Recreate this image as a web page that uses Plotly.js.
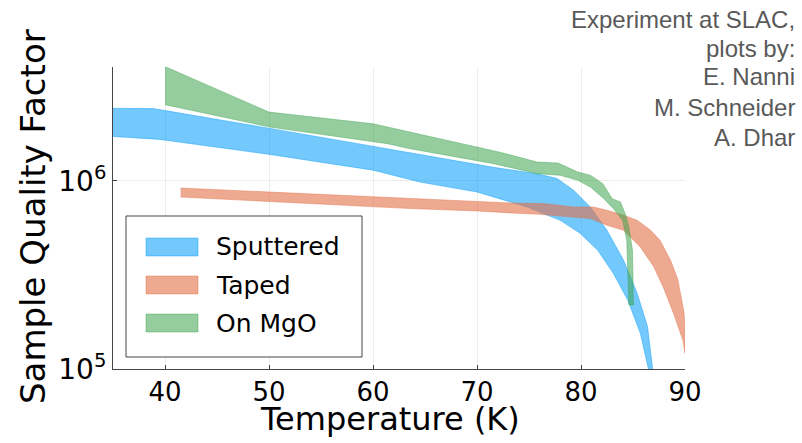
<!DOCTYPE html>
<html>
<head>
<meta charset="utf-8">
<script src="https://cdn.plot.ly/plotly-3.0.1.min.js"></script>
<style>html,body{margin:0;padding:0;background:#fff;}#chart{width:802px;height:443px;}</style>
</head>
<body>
<div id="chart"></div>
<script>
// Sputtered band (upper / lower edges)
const sputT_up = [35, 38.9, 50.1, 60, 64.5, 71.6, 75.8, 77.7, 79.3, 80.9, 82.5, 84.1, 85.4, 86.4, 86.9];
const sputQ_up = [2.43e6, 2.42e6, 1.90e6, 1.52e6, 1.38e6, 1.18e6, 1.09e6, 1.03e6, 8.9e5, 7.26e5, 5.46e5, 3.78e5, 2.53e5, 1.68e5, 9.9e4];
const sputT_lo = [35, 39.5, 50.1, 60, 64.5, 70, 74.8, 78, 79.9, 81.6, 83.1, 84.5, 85.7, 86.5];
const sputQ_lo = [1.72e6, 1.66e6, 1.38e6, 1.14e6, 9.85e5, 8.72e5, 7.26e5, 6.17e5, 5.27e5, 4.28e5, 3.23e5, 2.32e5, 1.55e5, 9.9e4];

// Taped band
const tapT_up = [41.5, 63.6, 70.0, 73.2, 76.4, 79.3, 81.2, 82.5, 84.1, 85.4, 86.7, 87.6, 88.6, 89.3, 89.9, 90];
const tapQ_up = [9.16e5, 8.04e5, 7.78e5, 7.63e5, 7.57e5, 7.26e5, 7.26e5, 6.98e5, 6.56e5, 6.17e5, 5.46e5, 4.83e5, 3.79e5, 3.01e5, 2.01e5, 1.67e5];
const tapT_lo = [41.5, 63.6, 70.0, 73.2, 76.0, 79.3, 80.9, 82.5, 84.1, 85.7, 87.0, 87.9, 88.9, 89.8, 90];
const tapQ_lo = [8.2e5, 7.12e5, 6.92e5, 6.75e5, 6.64e5, 6.40e5, 6.30e5, 5.81e5, 5.46e5, 4.45e5, 3.49e5, 2.73e5, 1.97e5, 1.42e5, 1.21e5];

// On MgO band
const mgoT_up = [40, 50, 60, 63.6, 70.0, 72.2, 75.8, 77.8, 79.7, 80.9, 82.1, 83.0, 83.8, 84.3, 84.6, 84.95, 85.05];
const mgoQ_up = [4.05e6, 2.32e6, 2.01e6, 1.815e6, 1.51e6, 1.42e6, 1.258e6, 1.243e6, 1.114e6, 1.07e6, 9.66e5, 8.04e5, 7.72e5, 6.56e5, 5.69e5, 4.28e5, 2.19e5];
const mgoT_lo = [40, 50.1, 61.4, 63.6, 71.6, 75.8, 78.0, 79.7, 80.9, 82.2, 83.1, 84.0, 84.4, 84.5, 84.6];
const mgoQ_lo = [2.54e6, 1.93e6, 1.575e6, 1.48e6, 1.234e6, 1.092e6, 1.07e6, 1.006e6, 9.27e5, 8.04e5, 7.12e5, 6.17e5, 4.83e5, 3.23e5, 2.19e5];

const seriesNames = ["Sputtered", "Taped", "On MgO"];
const xTicks = [40, 50, 60, 70, 80, 90];
const yTicks = [1e5, 1e6];
const yTickText = ["10<sup>5</sup>", "10<sup>6</sup>"];
const xTitle = "Temperature (K)";
const yTitle = "Sample Quality Factor";
const creditLines = ["Experiment at SLAC,", "plots by:", "E. Nanni", "M. Schneider", "A. Dhar"];

const fills = ["rgba(0,154,250,0.55)", "rgba(227,111,71,0.6)", "rgba(62,164,78,0.55)"];
const edges = ["rgba(0,154,250,0.6)", "rgba(227,111,71,0.6)", "rgba(62,164,78,0.6)"];

function band(i, tu, qu, tl, ql) {
  return {
    type: "scatter", mode: "lines", name: seriesNames[i],
    x: tu.concat(tl.slice().reverse()),
    y: qu.concat(ql.slice().reverse()),
    fill: "toself", fillcolor: fills[i],
    line: {color: edges[i], width: 0.7},
    showlegend: false, hoverinfo: "skip"
  };
}

const data = [
  band(0, sputT_up, sputQ_up, sputT_lo, sputQ_lo),
  band(1, tapT_up, tapQ_up, tapT_lo, tapQ_lo),
  band(2, mgoT_up, mgoQ_up, mgoT_lo, mgoQ_lo)
];

// layout helpers in paper coordinates (plot area: x 113..685, y 67..369 px)
const W = 572, H = 302;
const px = v => (v - 113) / W;
const py = v => (369 - v) / H;
const shapes = [{
  type: "rect", xref: "paper", yref: "paper",
  x0: px(126), x1: px(362), y0: py(357), y1: py(216),
  fillcolor: "#fff", line: {color: "#444", width: 1}, layer: "above"
}];
const annotations = [];
const rowY = [247, 285, 323];
seriesNames.forEach((n, i) => {
  shapes.push({
    type: "rect", xref: "paper", yref: "paper",
    x0: px(146), x1: px(198), y0: py(rowY[i] + 9), y1: py(rowY[i] - 9),
    fillcolor: fills[i], line: {color: edges[i], width: 0.7}, layer: "above"
  });
  annotations.push({
    xref: "paper", yref: "paper", x: px(214), y: py(rowY[i]),
    xanchor: "left", yanchor: "middle", showarrow: false, text: n,
    font: {family: "DejaVu Sans", size: 25, color: "#000"}
  });
});
const creditY = [19, 48, 77, 107, 137];
creditLines.forEach((t, i) => {
  annotations.push({
    xref: "paper", yref: "paper", x: px(797), y: py(creditY[i]), xanchor: "right", yanchor: "middle",
    align: "right", showarrow: false, text: t,
    font: {family: "Liberation Sans", size: 24, color: "#595959"}
  });
});
annotations.push({
  xref: "paper", yref: "paper", x: px(390), y: py(419), xanchor: "center", yanchor: "middle",
  showarrow: false, text: xTitle, font: {family: "DejaVu Sans", size: 32, color: "#000"}
});
annotations.push({
  xref: "paper", yref: "paper", x: px(33), y: py(217), xanchor: "center", yanchor: "middle",
  showarrow: false, text: yTitle, textangle: -90, font: {family: "DejaVu Sans", size: 34, color: "#000"}
});

const layout = {
  width: 802, height: 443,
  margin: {l: 113, r: 117, t: 67, b: 74},
  paper_bgcolor: "#fff", plot_bgcolor: "#fff",
  font: {family: "DejaVu Sans", color: "#000"},
  showlegend: false,
  xaxis: {
    range: [35, 90], tickvals: xTicks, ticktext: xTicks.map(String),
    showline: true, linecolor: "#444", linewidth: 1,
    showgrid: true, gridcolor: "#ececec", gridwidth: 1,
    zeroline: false, ticks: "inside", ticklen: 4, tickcolor: "#444",
    tickfont: {family: "DejaVu Sans", size: 26, color: "#000"}
  },
  yaxis: {
    type: "log", range: [5, 6.605], tickvals: yTicks, ticktext: yTickText,
    showline: true, linecolor: "#444", linewidth: 1,
    showgrid: true, gridcolor: "#ececec", gridwidth: 1,
    zeroline: false, ticks: "inside", ticklen: 4, tickcolor: "#444",
    tickfont: {family: "DejaVu Sans", size: 28, color: "#000"}
  },
  shapes: shapes,
  annotations: annotations
};

Plotly.newPlot("chart", data, layout, {staticPlot: true});
</script>
</body>
</html>
